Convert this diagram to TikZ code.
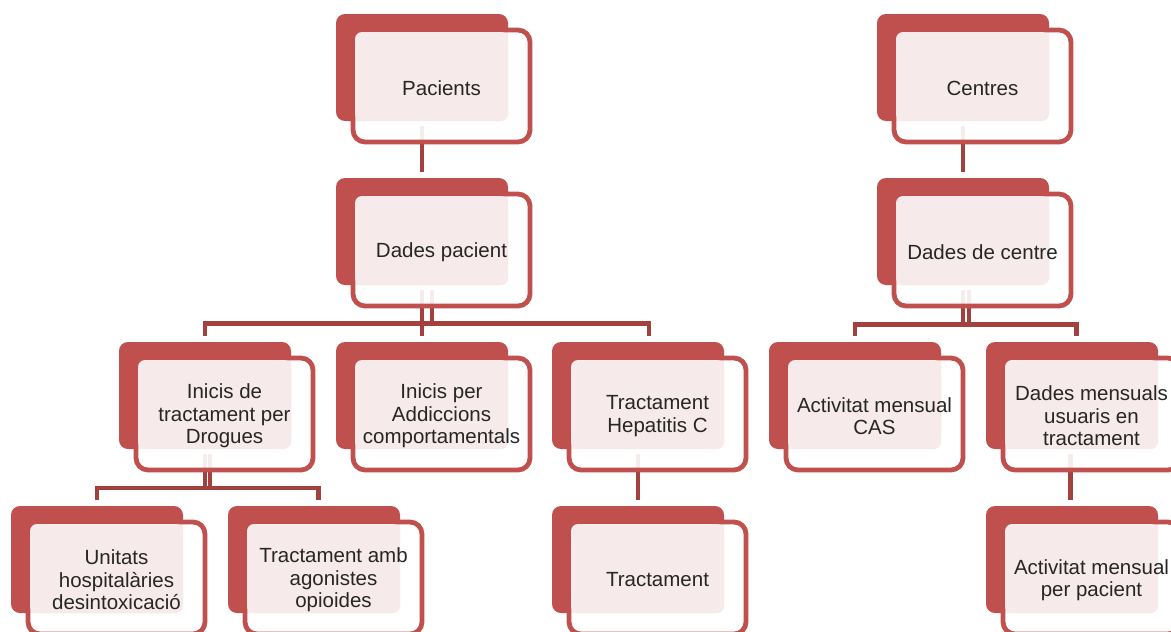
\documentclass[tikz,border=0pt]{standalone}
\usepackage{fontspec}
\setmainfont{Liberation Sans}
\usetikzlibrary{calc}
\pgfdeclarelayer{bg}
\pgfsetlayers{bg,main}
\definecolor{boxred}{RGB}{192,80,77}
\definecolor{connred}{RGB}{163,65,63}
\definecolor{pinkfill}{RGB}{246,234,234}
\definecolor{txt}{RGB}{38,38,38}
\tikzset{
 backbox/.style={fill=boxred, rounded corners=9pt, minimum width=172pt, minimum height=107pt, inner sep=0pt, outer sep=0pt},
 framebox/.style={draw=boxred, line width=4.8pt, fill=white, fill opacity=0.9, rounded corners=12pt, minimum width=177pt, minimum height=112pt, inner sep=0pt, outer sep=0pt},
 pinkbox/.style={fill=pinkfill, rounded corners=7pt, minimum width=153pt, minimum height=89pt, inner sep=0pt, outer sep=0pt},
 lbl/.style={text=txt, align=center, font=\fontsize{20.5}{22.5}\selectfont, inner sep=0pt},
 conn/.style={draw=connred, line width=4.8pt},
}
\newcommand{\orgnode}[4]{%
  \node[backbox] (#1) at (#2+86,#3+53.5) {};
  \node[framebox] (#1-f) at (#2+105.5,#3+72) {};
  \node[pinkbox] (#1-p) at (#2+95.5,#3+62.5) {};
  \node[lbl] (#1-t) at (#2+105.5,#3+74) {#4};
}
\begin{document}
\begin{tikzpicture}[x=1pt,y=-1pt]
\useasboundingbox (0,0) rectangle (1171,632);
\begin{pgfonlayer}{bg}
\fill[white] (0,0) rectangle (1171,632);
\end{pgfonlayer}
% level 1
\orgnode{pac}{336}{14}{Pacients}
\orgnode{cen}{877}{14}{Centres}
% level 2
\orgnode{dp}{336}{178}{Dades pacient}
\orgnode{dc}{877}{178}{Dades de centre}
% level 3
\orgnode{ini}{119}{342}{Inicis de\\tractament per\\Drogues}
\orgnode{add}{336}{342}{Inicis per\\Addiccions\\comportamentals}
\orgnode{hep}{552}{342}{Tractament\\Hepatitis C}
\orgnode{act}{769}{342}{Activitat mensual\\CAS}
\orgnode{dmu}{986}{342}{Dades mensuals\\usuaris en\\tractament}
% level 4
\orgnode{uhd}{11}{506}{Unitats\\hospitalàries\\desintoxicació}
\orgnode{taa}{228}{506}{Tractament amb\\agonistes\\opioides}
\orgnode{trc}{552}{506}{Tractament}
\orgnode{apc}{986}{506}{Activitat mensual\\per pacient}
% connectors
\begin{pgfonlayer}{bg}
\coordinate (dpbar) at ([yshift=-38.5pt]dp.south);
\coordinate (dcbar) at ([yshift=-39.5pt]dc.south);
\coordinate (inibar) at ([yshift=-39pt]ini.south);
\draw[conn] ([yshift=-5pt]pac.south) -- ([yshift=6pt]dp.north);
\draw[conn] ([yshift=-5pt]cen.south) -- ([yshift=6pt]dc.north);
% Dades pacient group
\draw[conn] ([yshift=6pt]ini.north) |- (dpbar) -| ([xshift=11pt,yshift=6pt]hep.north);
\draw[conn] ([yshift=-5pt]dp.south) -- ([yshift=6pt]add.north);
\draw[conn] ([xshift=10pt,yshift=-5pt]dp.south) -- ([xshift=10pt]dpbar);
% Dades de centre group
\draw[conn] ([yshift=6pt]act.north) |- (dcbar) -| ([xshift=4.5pt,yshift=6pt]dmu.north);
\draw[conn] ([yshift=-5pt]dc.south) -- (dcbar);
\draw[conn] ([xshift=6pt,yshift=-5pt]dc.south) -- ([xshift=6pt]dcbar);
% Inicis group
\draw[conn] ([yshift=6pt]uhd.north) |- (inibar) -| ([xshift=4.5pt,yshift=6pt]taa.north);
\draw[conn] ([yshift=-5pt]ini.south) -- (inibar);
\draw[conn] ([xshift=5pt,yshift=-5pt]ini.south) -- ([xshift=5pt]inibar);
% single chains
\draw[conn] ([yshift=-5pt]hep.south) -- ([yshift=6pt]trc.north);
\draw[conn] ([xshift=-1.5pt,yshift=-5pt]dmu.south) -- ([xshift=-1.5pt,yshift=6pt]apc.north);
\end{pgfonlayer}
\end{tikzpicture}
\end{document}
